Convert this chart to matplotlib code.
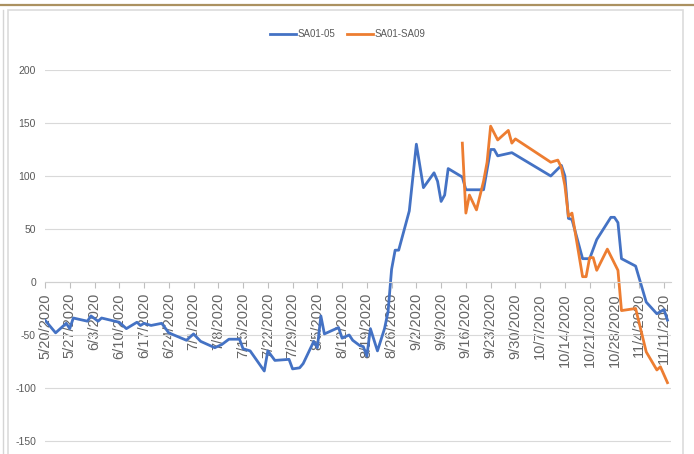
import matplotlib
matplotlib.use('Agg')
import matplotlib.pyplot as plt
from matplotlib.lines import Line2D
from matplotlib.patches import Rectangle
import pandas as pd

# series SA01-05
blue_dates = ['5/20', '5/23', '5/26', '5/27', '5/28', '6/1', '6/2', '6/4', '6/5',
              '6/10', '6/12', '6/15', '6/16', '6/17', '6/19', '6/22', '6/24', '6/29',
              '7/1', '7/3', '7/7', '7/9', '7/11', '7/14', '7/15', '7/17', '7/21',
              '7/22', '7/24', '7/28', '7/29', '7/31', '8/1', '8/4', '8/5', '8/6',
              '8/7', '8/11', '8/12', '8/14', '8/15', '8/17', '8/18', '8/19', '8/20',
              '8/22', '8/24', '8/25', '8/26', '8/27', '8/28', '8/31', '9/2', '9/4',
              '9/7', '9/8', '9/9', '9/10', '9/11', '9/15', '9/16', '9/21', '9/23',
              '9/24', '9/25', '9/29', '10/10', '10/13', '10/14', '10/15', '10/16',
              '10/19', '10/21', '10/23', '10/27', '10/28', '10/29', '10/30', '11/3',
              '11/6', '11/9', '11/11', '11/12']
blue_vals = [-36, -48, -39, -44, -34, -37, -32, -37, -34,
             -38, -44, -38, -41, -39, -41, -39, -48, -55,
             -49, -56, -62, -59, -54, -54, -63, -65, -84,
             -65, -74, -73, -82, -81, -77, -56, -62, -32,
             -49, -43, -53, -50, -55, -60, -61, -70, -44,
             -65, -44, -28, 12, 30, 30, 67, 130, 89,
             103, 95, 76, 82, 107, 99, 87, 87, 125,
             125, 119, 122, 100, 110, 100, 60, 59,
             22, 22, 40, 61, 61, 56, 22, 15,
             -19, -30, -26, -36]

# series SA01-SA09
orange_dates = ['9/15', '9/16', '9/17', '9/19', '9/21', '9/22', '9/23', '9/25', '9/28',
                '9/29', '9/30', '10/10', '10/12', '10/13', '10/14', '10/15', '10/16',
                '10/19', '10/20', '10/21', '10/22', '10/23', '10/26', '10/29', '10/30',
                '11/3', '11/6', '11/9', '11/10', '11/12']
orange_vals = [131, 65, 82, 68, 95, 113, 147, 134, 143,
               131, 135, 113, 115, 108, 91, 62, 65,
               5, 5, 23, 23, 11, 31, 11, -27,
               -25, -66, -83, -80, -95]

series_names = ['SA01-05', 'SA01-SA09']
y_ticks = [-150, -100, -50, 0, 50, 100, 150, 200]

blue_x = pd.to_datetime([d + '/2020' for d in blue_dates], format='%m/%d/%Y')
orange_x = pd.to_datetime([d + '/2020' for d in orange_dates], format='%m/%d/%Y')
week_ticks = pd.date_range('2020-05-20', '2020-11-11', freq='7D')
week_labels = [f'{d.month}/{d.day}/{d.year}' for d in week_ticks]

plt.rcParams['font.family'] = ['Liberation Sans', 'DejaVu Sans']

W, H = 694, 454
fig = plt.figure(figsize=(W / 100, H / 100), dpi=100)
ax = fig.add_axes([45 / W, 0, (671 - 45) / W, (454 - 70) / H])

ax.plot(blue_x, blue_vals, color='#4472C4', lw=2.0, solid_joinstyle='round', label=series_names[0])
ax.plot(orange_x, orange_vals, color='#ED7D31', lw=2.0, solid_joinstyle='round', label=series_names[1])

ax.set_xlim(pd.Timestamp('2020-05-20'), pd.Timestamp('2020-11-13'))
ax.set_ylim(-162.3, 200)

ax.set_yticks(y_ticks)
ax.set_yticklabels([str(v) for v in y_ticks])
ax.grid(axis='y', color='#D9D9D9', lw=0.8)
ax.set_axisbelow(True)
ax.tick_params(axis='y', length=0, pad=6.5, labelsize=7.5, labelcolor='#595959')

# weekly date ticks, rotated labels hanging under the zero line
ax.tick_params(axis='x', direction='out', length=4, width=0.8, color='#BFBFBF', pad=4,
               labelrotation=90, labelsize=10.5, labelcolor='#656565')
ax.set_xticks(week_ticks)
ax.set_xticklabels(week_labels)
for lbl in ax.get_xticklabels():
    lbl.set_family('DejaVu Sans')
    lbl.set_rotation(90)
    lbl.set_va('top')
    lbl.set_ha('center')

for s in ['left', 'right', 'top']:
    ax.spines[s].set_visible(False)
ax.spines['bottom'].set_position(('data', 0))
ax.spines['bottom'].set_color('#D0D0D0')
ax.spines['bottom'].set_linewidth(0.8)
ax.patch.set_alpha(0)

fig.legend(loc='center', bbox_to_anchor=(0.5007, 1 - 34 / H), ncol=2, frameon=False,
           fontsize=7, handlelength=2.7, handletextpad=0.15, columnspacing=1.2,
           labelcolor='#595959')

# frame decorations
fig.add_artist(Line2D([0, 693 / W], [1 - 5 / H] * 2, transform=fig.transFigure,
                      color='#AB9160', lw=1.6))
fig.add_artist(Rectangle((8 / W, -0.05), (683 - 8) / W, 1.05 - 10 / H, transform=fig.transFigure,
                         fill=False, edgecolor='#DCDCDC', lw=1.2, zorder=0))
fig.add_artist(Line2D([2.5 / W] * 2, [0, 1 - 10 / H], transform=fig.transFigure,
                      color='#D5D5D5', lw=1.0))

fig.savefig('out.png', dpi=100)
